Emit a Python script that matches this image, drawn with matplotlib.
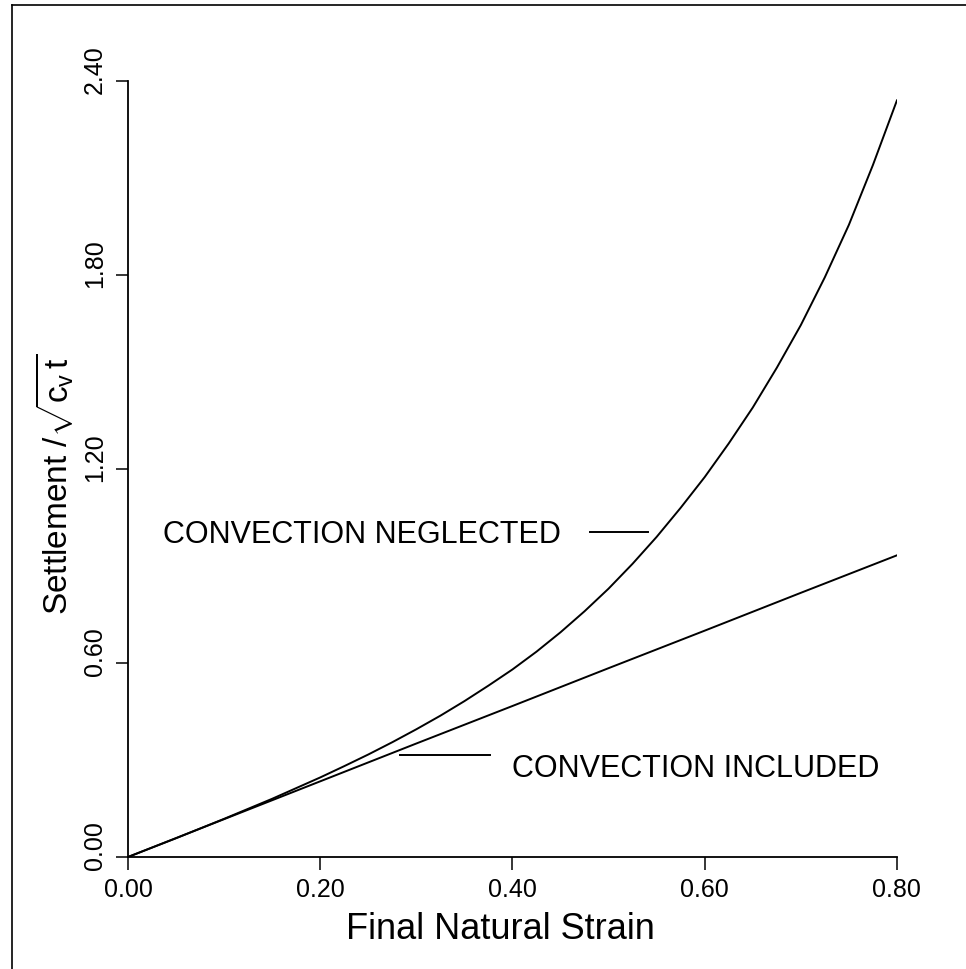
import matplotlib
matplotlib.use('Agg')
import matplotlib.pyplot as plt
from matplotlib.lines import Line2D
from matplotlib.transforms import ScaledTranslation

# values
strain = [0.000, 0.025, 0.050, 0.075, 0.100, 0.125, 0.150, 0.175, 0.200,
          0.225, 0.250, 0.275, 0.300, 0.325, 0.350, 0.375, 0.400,
          0.425, 0.450, 0.475, 0.500, 0.525, 0.550, 0.575, 0.600,
          0.625, 0.650, 0.675, 0.700, 0.725, 0.750, 0.775, 0.800]
neglected = [0.000, 0.029, 0.058, 0.088, 0.118, 0.149, 0.180, 0.213, 0.246,
             0.281, 0.317, 0.355, 0.395, 0.437, 0.482, 0.530, 0.580,
             0.635, 0.695, 0.760, 0.830, 0.907, 0.990, 1.080, 1.175,
             1.279, 1.390, 1.513, 1.645, 1.793, 1.955, 2.140, 2.340]
strain_inc = [0.0, 0.1, 0.2, 0.3, 0.4, 0.5, 0.6, 0.7, 0.8]
included = [0.000, 0.117, 0.234, 0.351, 0.467, 0.584, 0.700, 0.817, 0.933]

xticks = [0.0, 0.2, 0.4, 0.6, 0.8]
xticklabels = ['0.00', '0.20', '0.40', '0.60', '0.80']
yticks = [0.0, 0.6, 1.2, 1.8, 2.4]
yticklabels = ['0.00', '0.60', '1.20', '1.80', '2.40']

plt.rcParams['font.family'] = ['Liberation Sans', 'DejaVu Sans']
plt.rcParams['mathtext.fontset'] = 'custom'
plt.rcParams['mathtext.rm'] = 'Liberation Sans'
plt.rcParams['mathtext.it'] = 'Liberation Sans'

fig = plt.figure(figsize=(9.66, 9.69), dpi=100)
ax = fig.add_axes([0.1325, 0.1156, 0.796, 0.8008])

ax.plot(strain, neglected, color='black', lw=1.4)
ax.plot(strain_inc, included, color='black', lw=1.4)

ax.set_xlim(0, 0.8)
ax.set_ylim(0, 2.4)
for s in ['top', 'right']:
    ax.spines[s].set_visible(False)
for s in ['left', 'bottom']:
    ax.spines[s].set_linewidth(1.3)

ax.set_xticks(xticks)
ax.set_xticklabels(xticklabels, fontsize=18)
ax.set_yticks(yticks)
ax.set_yticklabels(yticklabels, fontsize=18, rotation=90, va='center')
ax.tick_params(direction='out', length=9, width=1.1, pad=6)

# labels on the y axis sit a bit above their ticks
off = ScaledTranslation(0, 0.11, fig.dpi_scale_trans)
for lab in ax.get_yticklabels():
    lab.set_transform(lab.get_transform() + off)

ax.set_xlabel('Final Natural Strain', fontsize=26)
ax.xaxis.set_label_coords(0.485, -0.071)
ax.set_ylabel(r'Settlement $/\sqrt{c_v\,t}$', fontsize=24)
ax.yaxis.set_label_coords(-0.068, 0.48)

# curve labels with leader lines
ax.text(0.036, 0.970, 'CONVECTION NEGLECTED', fontsize=22, va='baseline')
ax.plot([0.481, 0.541], [1.005, 1.005], color='black', lw=1.4)
ax.text(0.3995, 0.247, 'CONVECTION INCLUDED', fontsize=22, va='baseline')
ax.plot([0.283, 0.377], [0.316, 0.316], color='black', lw=1.4)

# page frame (left and top edges)
fig.add_artist(Line2D([0.0124, 0.0124], [0.0, 0.995], transform=fig.transFigure, color='black', lw=1.2))
fig.add_artist(Line2D([0.0124, 1.0], [0.995, 0.995], transform=fig.transFigure, color='black', lw=1.2))

fig.savefig('out.png', dpi=100)
